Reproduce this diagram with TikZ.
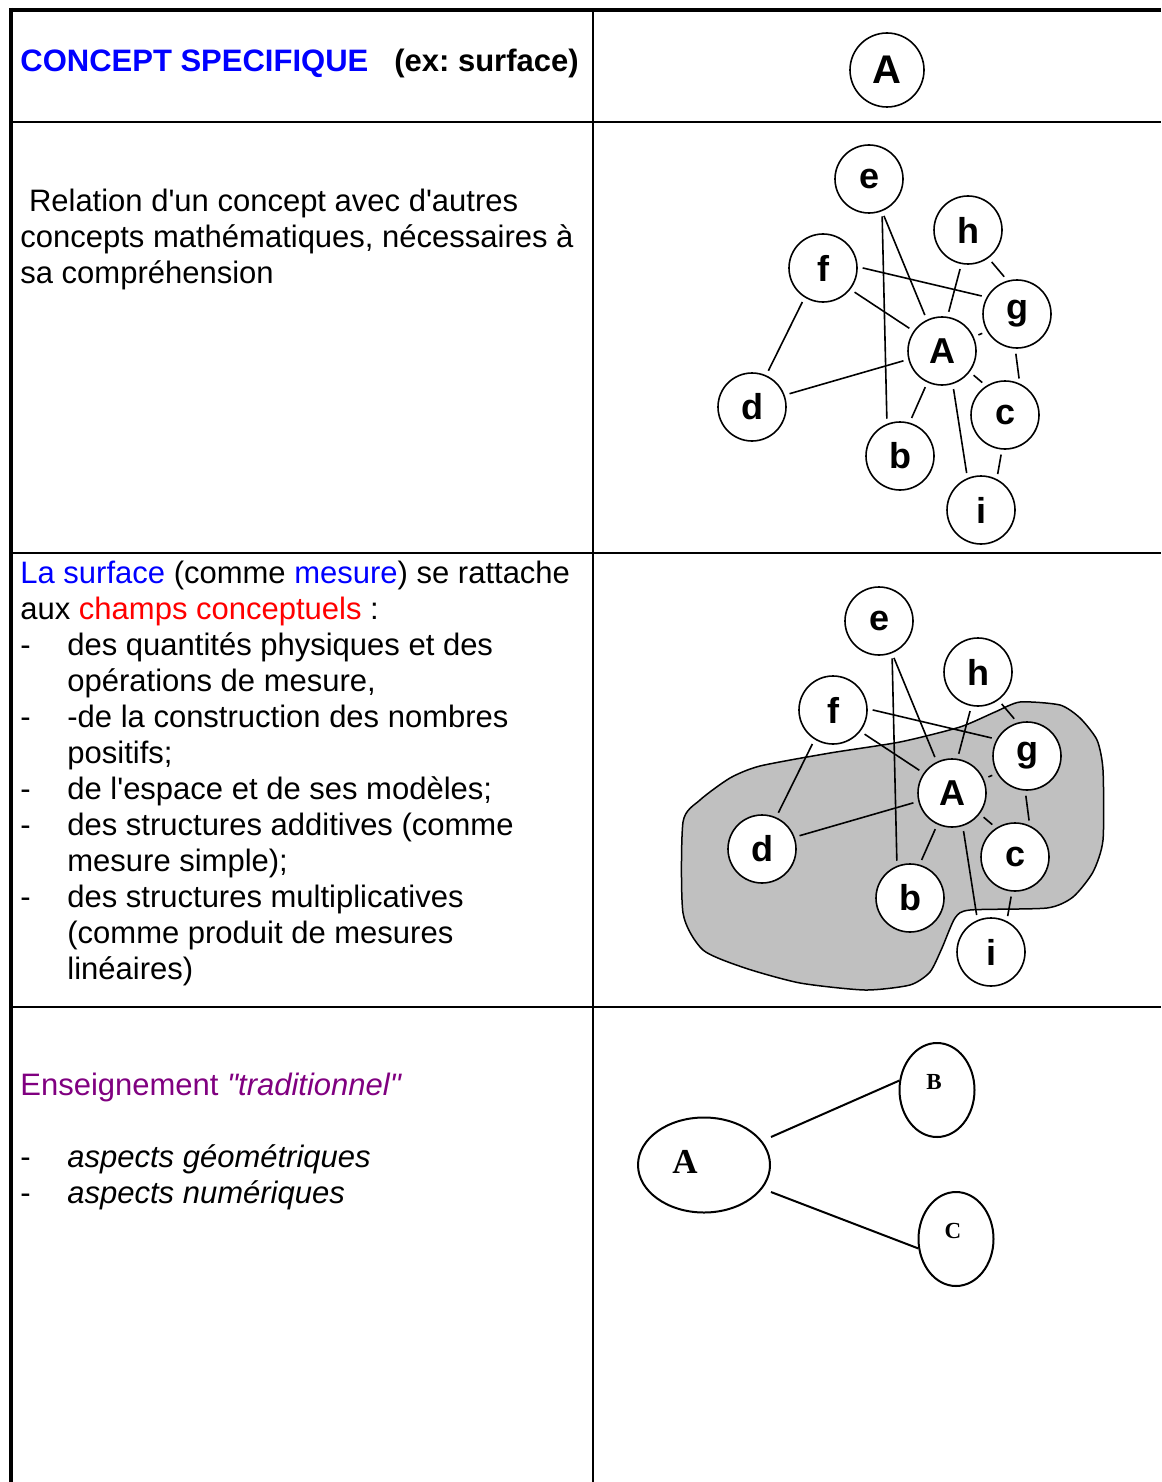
\documentclass[tikz,border=0pt]{standalone}
\usepackage{fontspec}
\setmainfont{Liberation Sans}[Ligatures=TeXOff]
\newfontfamily\romain{Liberation Serif}
\usetikzlibrary{shapes.geometric}
\definecolor{violetw}{RGB}{128,0,128}
\definecolor{grisfond}{RGB}{192,192,192}
\newcommand\tiret{\makebox[23.5pt][l]{-}}
\newcommand\retrait{\hspace*{23.5pt}}
\frenchspacing
\tikzset{
  texte/.style={anchor=north west,inner sep=0pt,align=left,font=\fontsize{15.5}{18}\selectfont},
  sommet/.style={circle,draw,fill=white,line width=0.8pt,minimum size=34pt,inner sep=0pt,font=\fontsize{18}{18}\selectfont\bfseries},
  lien/.style={line width=0.8pt,shorten <=2.5pt,shorten >=2.5pt},
  bulle/.style={ellipse,draw,line width=1pt,inner sep=0pt},
  lettre/.style={inner sep=0pt,font=\romain\bfseries\fontsize{#1}{#1}\selectfont},
  bord/.style={line width=2pt},
  trait/.style={line width=1.1pt}
}
\begin{document}
\begin{tikzpicture}[x=0.5pt,y=-0.5pt]
\useasboundingbox (0,0) rectangle (1161,1482);
% le tableau
\draw[bord] (9,10) -- (1161,10);
\draw[bord] (11,8) -- (11,1482);
\draw[trait] (593,10) -- (593,1482);
\draw[trait] (11,122) -- (1161,122)
             (11,553) -- (1161,553)
             (11,1007) -- (1161,1007);
% colonne de gauche
\node[texte] (titre) at (20,46) {\strut\bfseries{\color{blue}CONCEPT SPECIFIQUE}\hspace{13pt}(ex: surface)};
\node[texte] (relation) at (20,186) {\strut\hspace*{4.3pt}Relation d'un concept avec d'autres\\
concepts mathématiques, nécessaires à\\
sa compréhension};
\node[texte] (champs) at (20,558) {\strut{\color{blue}La surface} (comme {\color{blue}mesure}) se rattache\\
aux {\color{red}champs conceptuels} :\\
\tiret des quantités physiques et des\\
\retrait opérations de mesure,\\
\tiret -de la construction des nombres\\
\retrait positifs;\\
\tiret de l'espace et de ses modèles;\\
\tiret des structures additives (comme\\
\retrait mesure simple);\\
\tiret des structures multiplicatives\\
\retrait (comme produit de mesures\\
\retrait linéaires)};
\node[texte] (ensei) at (20,1070) {\strut{\color{violetw}Enseignement \textit{"traditionnel"}}\\[18pt]
\tiret\textit{aspects géométriques}\\
\tiret\textit{aspects numériques}};
% concept seul
\node[sommet,minimum size=37pt,font=\fontsize{20}{20}\selectfont\bfseries] (haut) at (887,70) {A};
% zone grise
\filldraw[fill=grisfond,line width=0.75pt] plot[smooth cycle,tension=0.4] coordinates {
  (683,822) (683,913) (703,950) (745,968) (800,983) (865,990) (910,985)
  (930,972) (942,948) (955,918) (970,910) (1047,908) (1073,897) (1093,872)
  (1103,840) (1103,770) (1097,740) (1080,718) (1060,705) (1020,702)
  (995,712) (960,727) (900,742) (830,753) (760,766) (730,778) (700,800)};
% les deux reseaux
\foreach \dx/\dy/\gr in {0/0/u,10/442/v}{
\begin{scope}[shift={(\dx,\dy)}]
\node[sommet] (\gr e) at (869,179) {e};
\node[sommet] (\gr h) at (968,230) {h};
\node[sommet] (\gr f) at (823,268) {f};
\node[sommet] (\gr g) at (1017,314) {g};
\node[sommet] (\gr A) at (942,351) {A};
\node[sommet] (\gr d) at (752,407) {d};
\node[sommet] (\gr c) at (1005,415) {c};
\node[sommet] (\gr b) at (900,456) {b};
\node[sommet] (\gr i) at (981,510) {i};
\draw[lien] (\gr e.-68) -- (\gr b.112);
\draw[lien] (\gr e.-68) -- (\gr A.116);
\draw[lien] (\gr f.2) -- (\gr g.151);
\draw[lien] (\gr f.-38) -- (\gr A.145);
\draw[lien] (\gr h.-101) -- (\gr A.81);
\draw[lien] (\gr h.-54) -- (\gr g.106);
\draw[lien] (\gr g.210) -- (\gr A.24);
\draw[lien] (\gr d.66) -- (\gr f.238);
\draw[lien] (\gr d.20) -- (\gr A.194);
\draw[lien] (\gr A.-37) -- (\gr c.123);
\draw[lien] (\gr A.-115) -- (\gr b.74);
\draw[lien] (\gr A.-72) -- (\gr i.113);
\draw[lien] (\gr g.-93) -- (\gr c.65);
\draw[lien] (\gr c.-95) -- (\gr i.63);
\end{scope}
}
% enseignement traditionnel
\node[bulle,minimum width=66pt,minimum height=47.5pt] (bA) at (704,1165) {};
\node[bulle,minimum width=37.5pt,minimum height=47pt] (bB) at (937,1090) {};
\node[bulle,minimum width=37.5pt,minimum height=47pt] (bC) at (956,1239) {};
\node[lettre=17.5] (tA) at (685,1162) {A};
\node[lettre=11.5] (tB) at (934,1082) {B};
\node[lettre=11.5] (tC) at (953,1231) {C};
\draw[line width=1pt] ([yshift=14pt]bA.east) -- (bB.166)
                      ([yshift=-13.5pt]bA.east) -- (bC.194);
\end{tikzpicture}
\end{document}
